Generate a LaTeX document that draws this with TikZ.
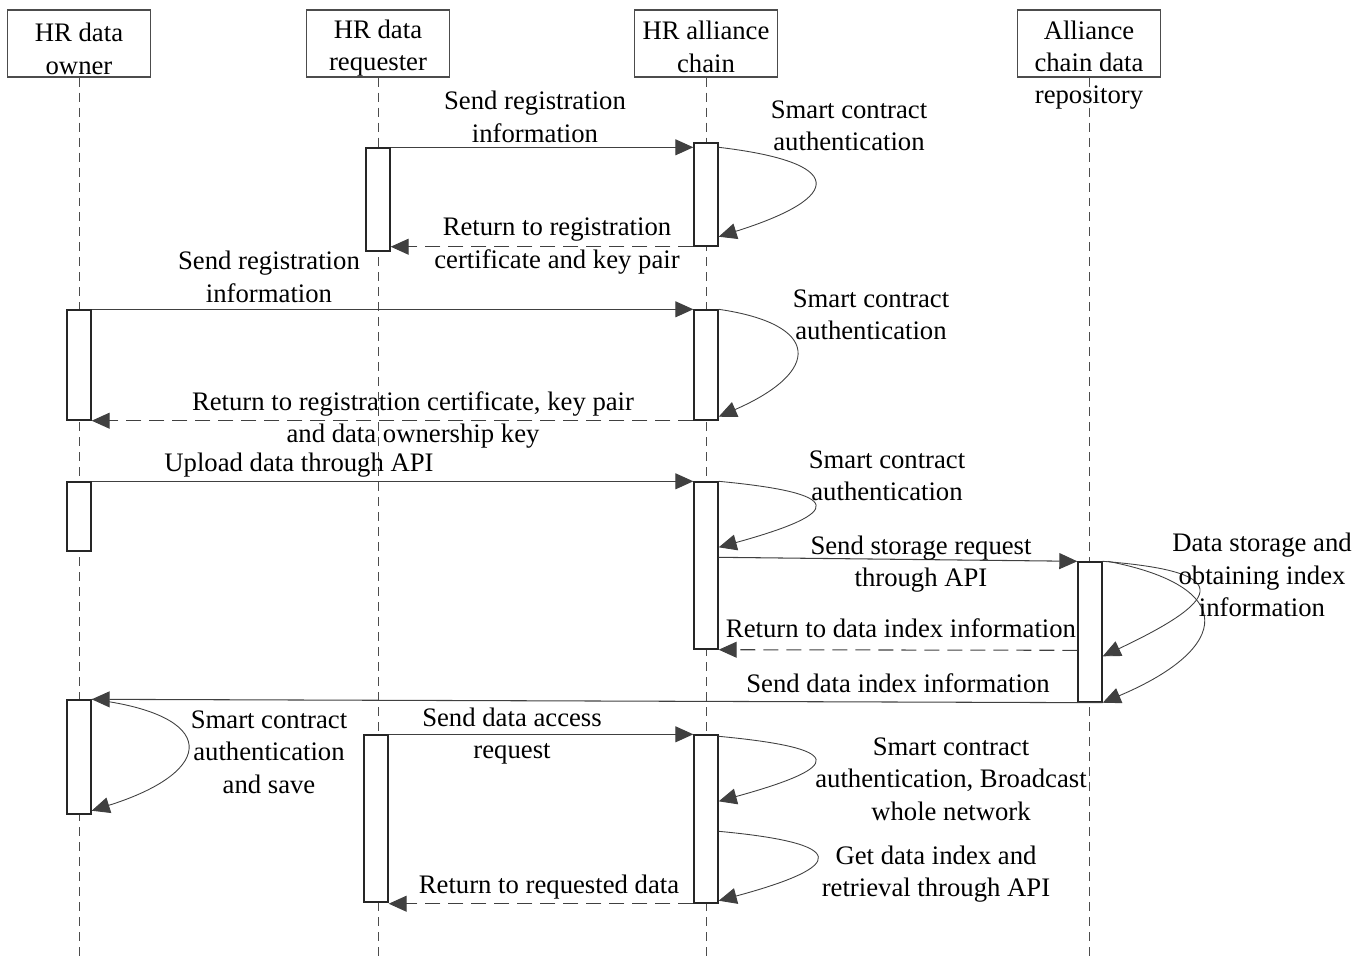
\documentclass[tikz,border=0pt]{standalone}
\usepackage{fontspec}
\setmainfont{Liberation Serif}
\usepackage{tikz}
\usetikzlibrary{arrows.meta,calc,fit,positioning}
\tikzset{%
	head/.style  = {draw=black!70, rectangle, minimum width=2.86cm, minimum height=1.34cm, line width=0.6pt}, % Participant
	bar/.style   = {draw=black!85, fill=white, rectangle, inner sep=0pt, line width=0.8pt}, % Activation
	life/.style  = {draw=black!70, line width=0.5pt, dash pattern=on 0.18cm off 0.12cm}, % Lifeline
	lbl/.style   = {align=center, inner sep=0pt, font=\fontsize{15.2}{18.4}\selectfont}, % Text
	msg/.style   = {draw=black!75, line width=0.6pt, -{Triangle[length=0.36cm,width=0.32cm,color=black!75]}},
	ret/.style   = {msg, dash pattern=on 0.3cm off 0.16cm},
	selfloop/.style = {msg, line width=0.5pt},
}

\begin{document}
\begin{tikzpicture}[x=0.02cm,y=-0.02cm]
	\useasboundingbox (0,0) rectangle (1366,958);
	% participants
	\node [head] (owner) at (79,43.5) {};
	\node [head] (req) at (378,43.5) {};
	\node [head] (chain) at (706,43.5) {};
	\node [head] (repo) at (1089,43.5) {};
	\node [lbl] (ownertxt) at (79,49) {HR data\\owner};
	\node [lbl] (reqtxt) at (378,48) {HR data\\requester};
	\node [lbl] (chaintxt) at (706,47) {HR alliance\\chain};
	\node [lbl] (repotxt) at (1089,65) {Alliance\\chain data\\repository};
	
	% lifelines
	\coordinate (ownerend) at (79,958);
	\coordinate (reqend) at (378,958);
	\coordinate (chainend) at (706,958);
	\coordinate (repoend) at (1089,958);
	\draw[life] (owner.south) -- (ownerend);
	\draw[life] (req.south) -- (reqend);
	\draw[life] (chain.south) -- (chainend);
	\draw[life] (repo.south) -- (repoend);
	
	% activations
	\node [bar, fit={(366,148)(390,251)}] (r1) {};
	\node [bar, fit={(694,143)(718,246)}] (c1) {};
	\node [bar, fit={(67,310)(91,420)}] (o1) {};
	\node [bar, fit={(694,310)(718,420)}] (c2) {};
	\node [bar, fit={(67,482)(91,551)}] (o2) {};
	\node [bar, fit={(694,482)(718,649)}] (c3) {};
	\node [bar, fit={(1078,562)(1102,702)}] (d1) {};
	\node [bar, fit={(67,700)(91,814)}] (o3) {};
	\node [bar, fit={(364,735)(388,902)}] (r2) {};
	\node [bar, fit={(694,735)(718,903)}] (c4) {};
	
	% registration of requester
	\draw[msg] (r1.north east) -- (r1.north east -| c1.west);
	\draw[selfloop] ($(c1.north east)+(0,5)$) .. controls +(127,15) and +(127,-40) .. ($(c1.south east)+(0,-10)$);
	\draw[ret] (c1.south west) -- (c1.south west -| r1.east);
	\node [lbl] (l1) at (535,117) {Send registration\\information};
	\node [lbl] (l2) at (849,126) {Smart contract\\authentication};
	\node [lbl] (l3) at (557,246) {Return to registration\\certificate and key pair};
	
	% registration of owner
	\draw[msg] (o1.north east) -- (o1.north east -| c2.west);
	\draw[selfloop] (c2.north east) .. controls +(103,15) and +(103,-45) .. ($(c2.south east)+(0,-4)$);
	\draw[ret] (c2.south west) -- (c2.south west -| o1.east);
	\node [lbl] (l4) at (269,277) {Send registration\\information};
	\node [lbl] (l5) at (871,315) {Smart contract\\authentication};
	\node [lbl] (l6) at (413,420) {Return to registration certificate, key pair\\and data ownership key};
	
	% upload and storage
	\draw[msg] (o2.north east) -- (o2.north east -| c3.west);
	\draw[selfloop] (c3.north east) .. controls +(127,12) and +(127,-35) .. ($(c3.north east)+(0,66)$);
	\draw[msg] ($(c3.north east)+(0,76)$) -- (d1.north west);
	\draw[selfloop] (d1.north east) .. controls +(127,10) and +(127,-60) .. ($(d1.north east)+(0,95)$);
	\draw[selfloop] ($(d1.north east)+(5,0)$) .. controls +(130,25) and +(130,-55) .. (d1.south east);
	\draw[ret] ($(d1.north west)+(0,89)$) -- (c3.south east);
	\draw[msg] (d1.south east) -- (o3.north east);
	\node [lbl] (l7) at (299,465) {Upload data through API};
	\node [lbl] (l8) at (887,476) {Smart contract\\authentication};
	\node [lbl] (l9) at (921,564) {Send storage request\\through API};
	\node [lbl] (l10) at (1262,575) {Data storage and\\obtaining index\\information};
	\node [lbl] (l11) at (901,628) {Return to data index information};
	\node [lbl] (l12) at (898,683) {Send data index information};
	
	% access request
	\draw[selfloop] (o3.north east) .. controls +(127,15) and +(127,-40) .. ($(o3.south east)+(0,-4)$);
	\draw[msg] (r2.north east) -- (r2.north east -| c4.west);
	\draw[selfloop] ($(c4.north east)+(0,2)$) .. controls +(127,12) and +(127,-35) .. ($(c4.north east)+(0,67)$);
	\draw[selfloop] ($(c4.north east)+(0,97)$) .. controls +(130,12) and +(130,-35) .. ($(c4.south east)+(0,-3)$);
	\draw[ret] (c4.south west) -- (c4.south west -| r2.east);
	\node [lbl] (l13) at (269,752) {Smart contract\\authentication\\and save};
	\node [lbl] (l14) at (512,736) {Send data access\\request};
	\node [lbl] (l15) at (951,779) {Smart contract\\authentication, Broadcast\\whole network};
	\node [lbl] (l16) at (936,874) {Get data index and\\retrieval through API};
	\node [lbl] (l17) at (549,887) {Return to requested data};
\end{tikzpicture}
\end{document}
